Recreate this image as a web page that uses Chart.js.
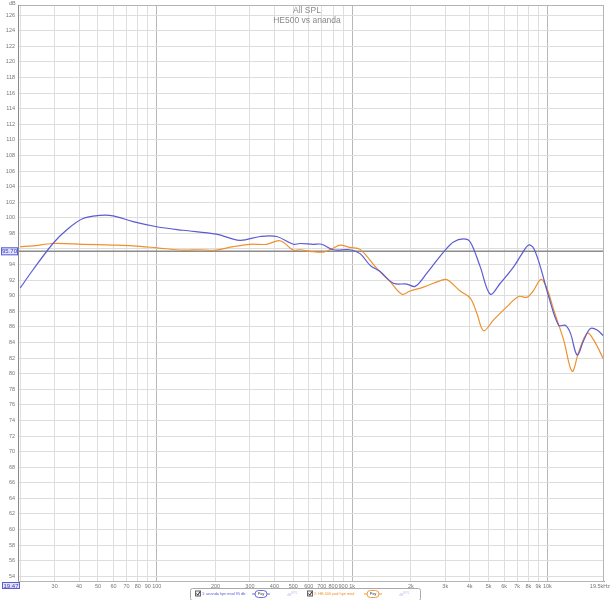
<!DOCTYPE html>
<html>
<head>
<meta charset="utf-8">
<script src="https://cdn.jsdelivr.net/npm/chart.js@4/dist/chart.umd.min.js"></script>
<style>
  html, body { margin: 0; padding: 0; background: #fff; }
  #wrap { position: relative; width: 612px; height: 600px; }
</style>
</head>
<body>
<div id="wrap"><canvas id="spl" width="612" height="600"></canvas></div>
<script>
// measured curves (Hz / dB SPL)
var freqAnanda = [20, 23.2, 29.4, 34.4, 41.9, 51, 59.7, 75.6, 100, 136, 202, 266, 338, 411, 500, 541, 633, 699, 802, 977,
  1099, 1237, 1392, 1628, 1908, 2104, 2416, 2939, 3307, 3722, 4029, 4533, 5102, 5741, 6718, 7420, 8019, 8507, 9207,
  10155, 11427, 12368, 13123, 14208, 15360, 16621, 17986, 19446];
var splAnanda = [91.0, 93.3, 96.7, 98.4, 99.9, 100.3, 100.25, 99.5, 98.85, 98.4, 97.9, 97.1, 97.6, 97.6, 96.6, 96.7, 96.6, 96.6, 95.9, 95.9,
  95.4, 93.9, 93.1, 91.6, 91.5, 91.2, 92.9, 95.6, 96.9, 97.3, 96.9, 93.7, 90.2, 91.6, 93.7, 95.4, 96.5, 96.1, 93.7,
  89.9, 86.2, 86.2, 85.2, 82.4, 84.3, 85.8, 85.6, 84.8];

var freqHE500 = [20, 23.2, 29.4, 41.9, 59.7, 75.6, 100, 136, 166, 202, 246, 300, 365, 428, 500, 541, 609, 713, 802, 868, 977,
  1099, 1338, 1566, 1798, 1983, 2321, 2612, 2999, 3181, 3579, 4029, 4361, 4714, 5304, 6215, 7125, 7869, 8507, 9284, 9965,
  10772, 12123, 13390, 14478, 15987, 17280, 19446];
var splHE500 = [96.3, 96.4, 96.7, 96.6, 96.5, 96.4, 96.15, 95.85, 95.9, 95.85, 96.3, 96.6, 96.6, 97.05, 95.85, 95.9, 95.7, 95.6, 96.1, 96.5, 96.2,
  95.95, 93.5, 91.8, 90.2, 90.6, 91.1, 91.6, 92.1, 91.8, 90.6, 89.7, 87.7, 85.5, 86.9, 88.6, 89.9, 89.8, 90.7, 92.1, 90.9,
  88.2, 84.3, 80.3, 82.8, 85.2, 84.3, 81.8];

var seriesNames = ["1: ananda hpn mod 95 db", "2: HE-500 pad hpn mod"];
var seriesColors = ["#5b5bd2", "#ee912c"];

// axis
var freqTicks = [20, 30, 40, 50, 60, 70, 80, 90, 100, 200, 300, 400, 500, 600, 700, 800, 900,
  1000, 2000, 3000, 4000, 5000, 6000, 7000, 8000, 9000, 10000];
var splTicks = [];
for (var t = 54; t <= 126; t += 2) splTicks.push(t);
var freqMin = 19.47, freqMax = 19500;
var splMin = 53.4, splMax = 127.3;
var refLevel = 95.7;

var titleLines = ["All SPL", "HE500 vs ananda"];

function toPoints(xs, ys) {
  return xs.map(function (x, i) { return { x: x, y: ys[i] }; });
}

function tag(ctx, text, x, y, w, h) {
  ctx.save();
  ctx.fillStyle = "#dfe3ff";
  ctx.strokeStyle = "#5b5bd2";
  ctx.lineWidth = 1;
  ctx.fillRect(x, y, w, h);
  ctx.strokeRect(x + 0.5, y + 0.5, w - 1, h - 1);
  ctx.fillStyle = "#4040b0";
  ctx.font = "6px 'Liberation Sans'";
  ctx.textAlign = "center";
  ctx.textBaseline = "middle";
  ctx.fillText(text, x + w / 2, y + h / 2 + 0.5);
  ctx.restore();
}

var decorations = {
  id: "decorations",
  beforeDatasetsDraw: function (chart) {
    var ctx = chart.ctx, a = chart.chartArea;
    var y = chart.scales.y.getPixelForValue(refLevel);
    ctx.save();
    ctx.strokeStyle = "#8c8c8c";
    ctx.lineWidth = 1.5;
    ctx.beginPath();
    ctx.moveTo(a.left, y);
    ctx.lineTo(a.right, y);
    ctx.stroke();
    ctx.restore();
  },
  afterDraw: function (chart) {
    var ctx = chart.ctx, a = chart.chartArea;
    ctx.save();
    // frame
    ctx.strokeStyle = "#b4b4b4";
    ctx.lineWidth = 1;
    ctx.strokeRect(a.left + 0.5, a.top + 0.5, a.right - a.left - 1, a.bottom - a.top);
    ctx.strokeStyle = "#8a8a8a";
    ctx.beginPath();
    ctx.moveTo(a.left + 0.5, a.top);
    ctx.lineTo(a.left + 0.5, a.bottom);
    ctx.stroke();

    // title
    ctx.fillStyle = "#8a8a8a";
    ctx.font = "8.5px 'Liberation Sans'";
    ctx.textAlign = "center";
    ctx.textBaseline = "alphabetic";
    ctx.fillText(titleLines[0], 307, 13);
    ctx.fillText(titleLines[1], 307, 23);

    // unit labels
    ctx.fillStyle = "#777";
    ctx.font = "5.5px 'Liberation Sans'";
    ctx.textAlign = "left";
    ctx.fillText("dB", 9, 5);
    ctx.textAlign = "right";
    ctx.fillText("19.5kHz", 610, 587.5);

    // cursor readouts
    var ry = chart.scales.y.getPixelForValue(refLevel);
    tag(ctx, refLevel.toFixed(2), 1, ry - 4, 17, 8);
    tag(ctx, freqMin.toFixed(2), 2, 582, 18, 7);

    // legend box
    ctx.fillStyle = "#fff";
    ctx.strokeStyle = "#aaa";
    ctx.lineWidth = 1;
    ctx.beginPath();
    ctx.roundRect(190.5, 588.5, 230, 12, 2);
    ctx.fill();
    ctx.stroke();
    [195, 307].forEach(function (x0, i) {
      var c = seriesColors[i];
      // checkbox
      ctx.fillStyle = "#eee";
      ctx.strokeStyle = "#666";
      ctx.lineWidth = 1;
      ctx.fillRect(x0, 590.5, 6, 6);
      ctx.strokeRect(x0 + 0.5, 591, 5, 5);
      ctx.strokeStyle = "#333";
      ctx.beginPath();
      ctx.moveTo(x0 + 1.5, 593.5);
      ctx.lineTo(x0 + 2.8, 595.2);
      ctx.lineTo(x0 + 5, 591.5);
      ctx.stroke();
      // name
      ctx.fillStyle = c;
      ctx.font = "3.8px 'Liberation Sans'";
      ctx.textAlign = "left";
      ctx.textBaseline = "middle";
      ctx.fillText(seriesNames[i], x0 + 7, 594);
      // badge
      var bx = x0 + 60;
      ctx.strokeStyle = c;
      ctx.lineWidth = 0.9;
      ctx.beginPath();
      ctx.roundRect(bx, 590.5, 12, 7, 3.5);
      ctx.stroke();
      ctx.fillStyle = "#333";
      ctx.font = "4px 'Liberation Sans'";
      ctx.textAlign = "center";
      ctx.fillText("Pxy", bx + 6, 594.2);
      ctx.beginPath();
      ctx.moveTo(bx - 3, 594); ctx.lineTo(bx, 594);
      ctx.moveTo(bx + 12, 594); ctx.lineTo(bx + 15, 594);
      ctx.stroke();
      // faint unit text
      ctx.fillStyle = "#c4c4e6";
      ctx.font = "3.6px 'Liberation Sans'";
      ctx.textAlign = "left";
      ctx.fillText("dB", x0 + 92, 594.5);
      ctx.fillText("SPL", x0 + 96, 592.6);
    });
    ctx.restore();
  }
};

new Chart(document.getElementById("spl"), {
  type: "line",
  data: {
    datasets: [
      {
        label: seriesNames[0],
        data: toPoints(freqAnanda, splAnanda),
        borderColor: seriesColors[0],
        borderWidth: 1.2,
        pointRadius: 0,
        tension: 0.35,
        fill: false
      },
      {
        label: seriesNames[1],
        data: toPoints(freqHE500, splHE500),
        borderColor: seriesColors[1],
        borderWidth: 1.2,
        pointRadius: 0,
        tension: 0.35,
        fill: false
      }
    ]
  },
  options: {
    responsive: false,
    animation: false,
    events: [],
    layout: { padding: { left: 0, top: 5, right: 8, bottom: 0 } },
    plugins: { legend: { display: false }, tooltip: { enabled: false } },
    scales: {
      x: {
        type: "logarithmic",
        min: freqMin,
        max: freqMax,
        afterBuildTicks: function (scale) {
          scale.ticks = freqTicks.map(function (v) { return { value: v }; });
        },
        afterFit: function (scale) {
          scale.height = 19;
          scale.paddingLeft = 0;
          scale.paddingRight = 0;
        },
        grid: {
          color: function (c) {
            var v = c.tick && c.tick.value;
            return v === 100 || v === 1000 || v === 10000 ? "#b8b8b8" : "#dedede";
          },
          lineWidth: 1,
          drawTicks: false
        },
        border: { color: "#999" },
        ticks: {
          autoSkip: false,
          maxRotation: 0,
          padding: 2,
          color: "#777",
          font: { family: "'Liberation Sans'", size: 5.5 },
          callback: function (v) {
            if (v === 20) return "";
            return v >= 1000 ? (v / 1000) + "k" : String(v);
          }
        }
      },
      y: {
        min: splMin,
        max: splMax,
        afterBuildTicks: function (scale) {
          scale.ticks = splTicks.map(function (v) { return { value: v }; });
        },
        afterFit: function (scale) {
          scale.width = 18;
          scale.paddingTop = 0;
          scale.paddingBottom = 0;
        },
        grid: { color: "#dedede", lineWidth: 1, drawTicks: false },
        border: { color: "#8a8a8a" },
        ticks: {
          padding: 3,
          color: "#777",
          font: { family: "'Liberation Sans'", size: 5.5 },
          callback: function (v) { return v === 96 ? "" : String(v); }
        }
      }
    }
  },
  plugins: [decorations]
});
</script>
</body>
</html>
